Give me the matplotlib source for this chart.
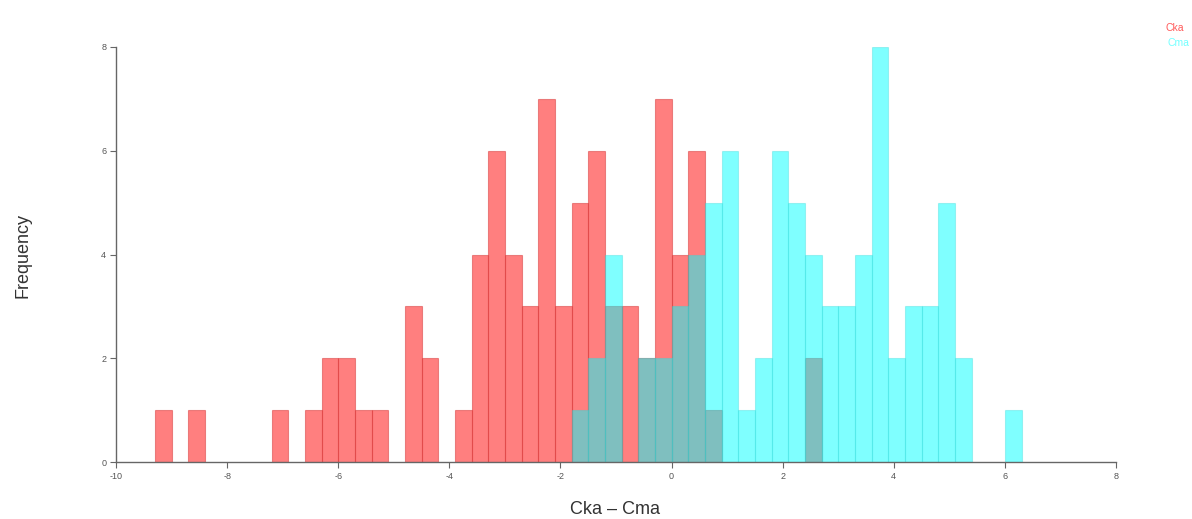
import matplotlib
matplotlib.use("Agg")
import matplotlib.pyplot as plt
import numpy as np

plt.rcParams['font.family'] = ['Liberation Sans', 'DejaVu Sans']

bin_width = 0.3

# Cka histogram: bin left edges and counts
cka_edges = [-9.3, -8.7, -7.2, -6.6, -6.3, -6.0, -5.7, -5.4, -4.8, -4.5,
             -3.9, -3.6, -3.3, -3.0, -2.7, -2.4, -2.1, -1.8, -1.5, -1.2,
             -0.9, -0.6, -0.3, 0.0, 0.3, 0.6, 2.4]
cka_counts = [1, 1, 1, 1, 2, 2, 1, 1, 3, 2,
              1, 4, 6, 4, 3, 7, 3, 5, 6, 3,
              3, 2, 7, 4, 6, 1, 2]

# Cma histogram: bin left edges and counts
cma_edges = [-1.8, -1.5, -1.2, -0.6, -0.3, 0.0, 0.3, 0.6, 0.9, 1.2,
             1.5, 1.8, 2.1, 2.4, 2.7, 3.0, 3.3, 3.6, 3.9, 4.2,
             4.5, 4.8, 5.1, 6.0]
cma_counts = [1, 2, 4, 2, 2, 3, 4, 5, 6, 1,
              2, 6, 5, 4, 3, 3, 4, 8, 2, 3,
              3, 5, 2, 1]

x_ticks = [-10, -8, -6, -4, -2, 0, 2, 4, 6, 8]
y_ticks = [0, 2, 4, 6, 8]

fig = plt.figure(figsize=(11.92, 5.19), dpi=100)
ax = fig.add_axes([116/1192, 1 - 462/519, 1000/1192, (462 - 47)/519])

ax.bar(cka_edges, cka_counts, width=bin_width, align='edge',
       color=(1, 0, 0, 0.5), edgecolor=(0.85, 0.25, 0.25, 0.55), linewidth=0.8)
ax.bar(cma_edges, cma_counts, width=bin_width, align='edge',
       color=(0, 1, 1, 0.5), edgecolor=(0.2, 0.85, 0.85, 0.35), linewidth=0.8)

ax.set_xlim(-10, 8)
ax.set_ylim(0, 8)
ax.set_xticks(x_ticks)
ax.set_yticks(y_ticks)
ax.set_xticklabels([str(t) for t in x_ticks])
ax.set_yticklabels([str(t) for t in y_ticks])

for s in ['top', 'right']:
    ax.spines[s].set_visible(False)
for s in ['left', 'bottom']:
    ax.spines[s].set_color('#666666')
    ax.spines[s].set_linewidth(1.0)

ax.tick_params(axis='both', direction='out', length=4, width=0.8,
               colors='#666666', labelsize=6.5, labelcolor='#555555', pad=3)

fig.text(615/1192, 1 - 509/519, 'Cka – Cma', ha='center', va='center',
         fontsize=13, color='#333333')
fig.text(23/1192, 1 - 255/519, 'Frequency', ha='center', va='center',
         rotation=90, fontsize=13, color='#333333')

fig.text(1165/1192, 1 - 28/519, 'Cka', ha='left', va='center', fontsize=7.5,
         color=(1, 0.35, 0.35))
fig.text(1167/1192, 1 - 43/519, 'Cma', ha='left', va='center', fontsize=7.5,
         color=(0.45, 1, 1))

fig.savefig('out.png', dpi=100)
